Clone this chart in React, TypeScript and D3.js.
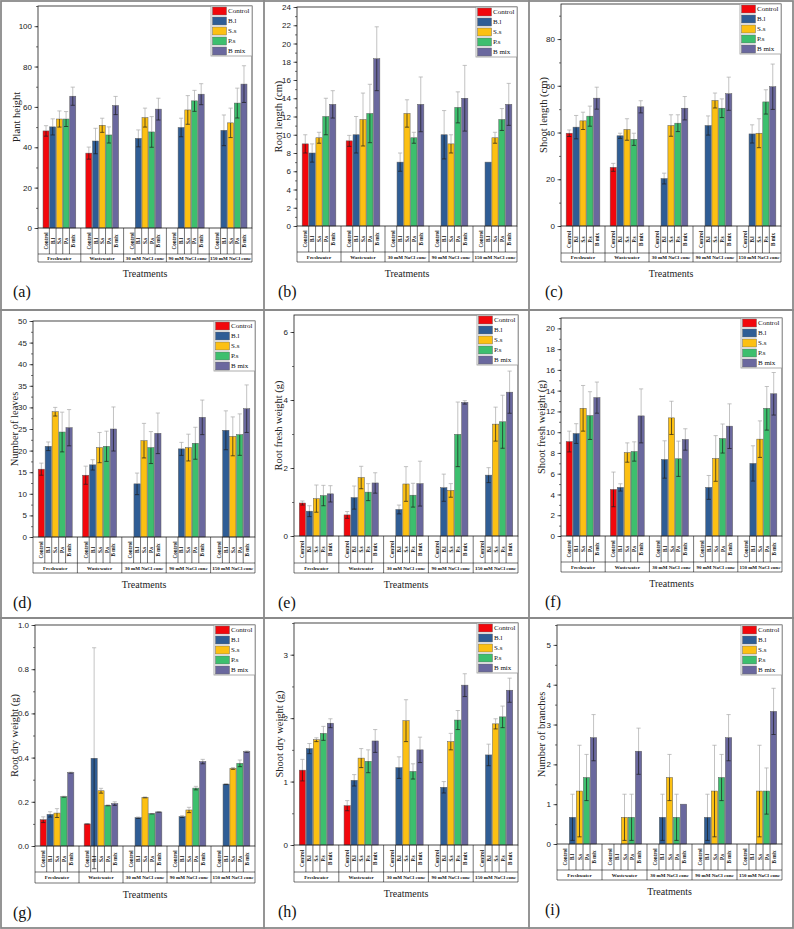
import { useEffect, useRef } from "react";
import * as d3 from "d3";

const groups = ["Freshwater", "Wastewater", "30 mM NaCl conc", "90 mM NaCl conc", "150 mM NaCl conc"];
const series = ["Control", "B.l", "S.s", "P.s", "B mix"];
const seriesColors = ["#f2070c", "#2f5d95", "#fcc013", "#3dbf6e", "#6a689e"];

// rows = treatment group, cols = strain (Control, B.l, S.s, P.s, B mix)
const plantHeight = [
  [48.1, 50.1, 54, 54, 65.3],
  [37.1, 43.1, 50.9, 46.1, 60.7],
  [0, 44.4, 54.7, 47.6, 58.9],
  [0, 49.8, 58.5, 63, 66.3],
  [0, 48.4, 52.1, 61.9, 71.3],
];
const plantHeightSd = [
  [2.6, 4, 4, 3.7, 4.5],
  [3, 6.3, 3.5, 4, 4.5],
  [0, 4.2, 4.7, 7.6, 5.4],
  [0, 4.6, 7.1, 5.2, 5.2],
  [0, 7.6, 7.3, 7.4, 9.1],
];

const rootLength = [
  [9, 8, 9.67, 12, 13.33],
  [9.33, 10, 11.67, 12.33, 18.33],
  [0, 7, 12.33, 9.67, 13.33],
  [0, 10, 9, 13, 14],
  [0, 7, 9.67, 11.67, 13.33],
];
const rootLengthSd = [
  [1, 1, 0.6, 2, 1.5],
  [0.6, 2, 2.9, 3.2, 3.5],
  [0, 1, 1.5, 0.6, 3],
  [0, 2.65, 1, 1.7, 3.6],
  [0, 0, 0.6, 1.2, 2.3],
];

const shootLength = [
  [39.7, 42.3, 45, 47, 54.7],
  [25.1, 38.6, 41.3, 37.1, 51],
  [0, 20.3, 43, 44, 50.4],
  [0, 43, 53.7, 50.4, 56.6],
  [0, 39.4, 39.7, 53.1, 59.6],
];
const shootLengthSd = [
  [1.4, 5, 3.7, 4.3, 4.7],
  [1.7, 1.1, 4.6, 2.6, 2.6],
  [0, 2.3, 4.6, 3.6, 5],
  [0, 4.1, 3.2, 4, 7.1],
  [0, 3.9, 6.2, 5.2, 9.7],
];

const leaves = [
  [15.7, 21, 29, 24.3, 25.3],
  [14.3, 16.7, 20.7, 21, 25],
  [0, 12.3, 22.3, 20.7, 24],
  [0, 20.4, 20.7, 21.7, 27.7],
  [0, 24.7, 23.3, 23.7, 29.7],
];
const leavesSd = [
  [1.4, 1, 1, 4.6, 4.2],
  [2.1, 1.2, 3.5, 3.5, 5.1],
  [0, 2.5, 4, 3.7, 4.7],
  [0, 1.5, 3.1, 3.7, 4],
  [0, 4.5, 4.5, 4.8, 5.5],
];

const rootFresh = [
  [0.97, 0.73, 1.1, 1.19, 1.24],
  [0.62, 1.13, 1.72, 1.29, 1.56],
  [0, 0.78, 1.53, 1.2, 1.54],
  [0, 1.42, 1.34, 2.99, 3.93],
  [0, 1.79, 3.29, 3.36, 4.23],
];
const rootFreshSd = [
  [0.06, 0.16, 0.4, 0.3, 0.24],
  [0.1, 0.34, 0.33, 0.25, 0.3],
  [0, 0.13, 0.51, 0.35, 0.66],
  [0, 0.4, 0.2, 0.95, 0.05],
  [0, 0.22, 0.5, 0.78, 0.62],
];

const shootFresh = [
  [9.1, 9.87, 12.3, 11.6, 13.33],
  [4.49, 4.68, 8.04, 8.14, 11.57],
  [0, 7.37, 11.38, 7.44, 9.3],
  [0, 4.68, 7.47, 9.39, 10.58],
  [0, 6.99, 9.33, 12.3, 13.7],
];
const shootFreshSd = [
  [1, 0.95, 2.2, 2.3, 1.5],
  [1.67, 0.35, 0.93, 0.93, 2.6],
  [0, 1.8, 1.6, 1.7, 1.03],
  [0, 1.15, 2.2, 1.4, 2.15],
  [0, 1.7, 1.76, 2.1, 2.05],
];

const rootDry = [
  [0.119, 0.143, 0.149, 0.223, 0.332],
  [0.1, 0.397, 0.25, 0.184, 0.192],
  [0, 0.128, 0.22, 0.146, 0.154],
  [0, 0.133, 0.163, 0.262, 0.382],
  [0, 0.28, 0.351, 0.374, 0.427],
];
const rootDrySd = [
  [0.013, 0.012, 0.02, 0.002, 0.002],
  [0.001, 0.5, 0.011, 0.002, 0.008],
  [0, 0.003, 0.002, 0.001, 0.001],
  [0, 0.004, 0.012, 0.008, 0.01],
  [0, 0.002, 0.004, 0.015, 0.003],
];

const shootDry = [
  [1.18, 1.52, 1.66, 1.76, 1.92],
  [0.62, 1.02, 1.37, 1.32, 1.64],
  [0, 1.22, 1.96, 1.16, 1.5],
  [0, 0.91, 1.63, 1.97, 2.52],
  [0, 1.42, 1.91, 2.02, 2.44],
];
const shootDrySd = [
  [0.17, 0.08, 0.03, 0.11, 0.07],
  [0.08, 0.09, 0.15, 0.18, 0.18],
  [0, 0.17, 0.33, 0.12, 0.2],
  [0, 0.09, 0.13, 0.15, 0.18],
  [0, 0.17, 0.08, 0.17, 0.19],
];

const branches = [
  [0, 0.67, 1.33, 1.67, 2.67],
  [0, 0, 0.67, 0.67, 2.33],
  [0, 0.67, 1.67, 0.67, 1],
  [0, 0.67, 1.33, 1.67, 2.67],
  [0, 0, 1.33, 1.33, 3.33],
];
const branchesSd = [
  [0, 0.58, 1.15, 0.58, 0.58],
  [0, 0, 0.58, 0.58, 0.58],
  [0, 0.58, 0.58, 0.58, 0],
  [0, 0.58, 1.15, 0.58, 0.58],
  [0, 0, 1.15, 0.58, 0.58],
];

type Box = {
  x0: number; x1: number; y0: number; yZero: number;
  labBottom: number; grpBottom: number; titleX: number; letterX: number;
};

type Panel = {
  letter: string; title: string; mean: number[][]; sd: number[][];
  yMax: number; step: number; minor: number; fmt: string; box: Box;
};

const panels: Panel[] = [
  { letter: "(a)", title: "Plant height", mean: plantHeight, sd: plantHeightSd, yMax: 110, step: 20, minor: 10, fmt: "d",
    box: { x0: 38, x1: 252, y0: 6, yZero: 228, labBottom: 254, grpBottom: 262, titleX: 16, letterX: 13 } },
  { letter: "(b)", title: "Root length (cm)", mean: rootLength, sd: rootLengthSd, yMax: 24, step: 2, minor: 1, fmt: "d",
    box: { x0: 297, x1: 517, y0: 7, yZero: 226, labBottom: 252, grpBottom: 262, titleX: 278, letterX: 278 } },
  { letter: "(c)", title: "Shoot length (cm)", mean: shootLength, sd: shootLengthSd, yMax: 95, step: 20, minor: 10, fmt: "d",
    box: { x0: 561, x1: 781, y0: 4, yZero: 226, labBottom: 253, grpBottom: 262, titleX: 543, letterX: 545 } },
  { letter: "(d)", title: "Number of leaves", mean: leaves, sd: leavesSd, yMax: 50, step: 5, minor: 2.5, fmt: "d",
    box: { x0: 33, x1: 255, y0: 321, yZero: 537, labBottom: 563, grpBottom: 573, titleX: 14, letterX: 13 } },
  { letter: "(e)", title: "Root fresh weight (g)", mean: rootFresh, sd: rootFreshSd, yMax: 6.5, step: 2, minor: 1, fmt: "d",
    box: { x0: 294, x1: 518, y0: 315, yZero: 536, labBottom: 563, grpBottom: 573, titleX: 278, letterX: 278 } },
  { letter: "(f)", title: "Shoot fresh weight (g)", mean: shootFresh, sd: shootFreshSd, yMax: 21, step: 2, minor: 1, fmt: "d",
    box: { x0: 561, x1: 782, y0: 318, yZero: 536, labBottom: 562, grpBottom: 572, titleX: 541, letterX: 545 } },
  { letter: "(g)", title: "Root dry weight (g)", mean: rootDry, sd: rootDrySd, yMax: 1.0, step: 0.2, minor: 0.1, fmt: ".1f",
    box: { x0: 35, x1: 255, y0: 625, yZero: 846, labBottom: 872, grpBottom: 883, titleX: 14, letterX: 13 } },
  { letter: "(h)", title: "Shoot dry weight (g)", mean: shootDry, sd: shootDrySd, yMax: 3.5, step: 1, minor: 0.5, fmt: "d",
    box: { x0: 294, x1: 518, y0: 623, yZero: 845, labBottom: 872, grpBottom: 882, titleX: 279, letterX: 278 } },
  { letter: "(i)", title: "Number of branches", mean: branches, sd: branchesSd, yMax: 5.5, step: 1, minor: 0.5, fmt: "d",
    box: { x0: 557, x1: 782, y0: 625, yZero: 844, labBottom: 870, grpBottom: 880, titleX: 541, letterX: 545 } },
];

const SERIF = "'Liberation Serif', 'Times New Roman', serif";
const SANS = "'Liberation Sans', Arial, sans-serif";

type Sel = d3.Selection<SVGGElement, unknown, null, undefined>;

function drawPanel(root: Sel, p: Panel) {
  const b = p.box;
  const g = root.append("g");
  const y = d3.scaleLinear().domain([0, p.yMax]).range([b.yZero, b.y0]);
  const gx = d3.scaleBand<string>().domain(groups).range([b.x0, b.x1]);
  const sx = d3
    .scaleBand<string>()
    .domain(series)
    .range([0, gx.bandwidth()])
    .paddingInner(0.1)
    .paddingOuter(0.75);

  const rows = groups.flatMap((grp, gi) =>
    series.map((s, si) => ({ grp, s, si, v: p.mean[gi][si], e: p.sd[gi][si] })),
  );
  const cx = (d: { grp: string; s: string }) => gx(d.grp)! + sx(d.s)! + sx.bandwidth() / 2;

  // bars
  g.append("g")
    .selectAll("rect")
    .data(rows.filter((d) => d.v > 0))
    .join("rect")
    .attr("x", (d) => gx(d.grp)! + sx(d.s)!)
    .attr("width", sx.bandwidth())
    .attr("y", (d) => y(d.v))
    .attr("height", (d) => b.yZero - y(d.v))
    .attr("fill", (d) => seriesColors[d.si])
    .attr("stroke", "#5c5c5c")
    .attr("stroke-width", 0.5);

  // error bars: light above the bar, dark inside it
  const withErr = rows.filter((d) => d.e > 0);
  const cap = 2.1;
  const up = g.append("g").attr("stroke", "#a9a9a9").attr("stroke-width", 0.7);
  up.selectAll("path")
    .data(withErr)
    .join("path")
    .attr("fill", "none")
    .attr("d", (d) => {
      const x = cx(d);
      const t = y(d.v + d.e);
      return `M${x},${y(d.v)}V${t}M${x - cap},${t}H${x + cap}`;
    });
  const down = g.append("g").attr("stroke", "#1e1e1e").attr("stroke-width", 0.7);
  down
    .selectAll("path")
    .data(withErr)
    .join("path")
    .attr("fill", "none")
    .attr("d", (d) => {
      const x = cx(d);
      const t = y(d.v - d.e);
      return `M${x},${y(d.v)}V${t}M${x - cap},${t}H${x + cap}`;
    });

  // plot frame
  g.append("rect")
    .attr("x", b.x0)
    .attr("y", b.y0)
    .attr("width", b.x1 - b.x0)
    .attr("height", b.yZero - b.y0)
    .attr("fill", "none")
    .attr("stroke", "#1a1a1a")
    .attr("stroke-width", 0.8);

  // y axis
  const major = d3.range(0, p.yMax + 1e-9, p.step);
  const axis = d3
    .axisLeft(y)
    .tickValues(major)
    .tickSize(3.5)
    .tickPadding(2.5)
    .tickFormat((v) => d3.format(p.fmt)(v as number));
  const ag = g.append("g").attr("transform", `translate(${b.x0},0)`).call(axis);
  ag.select(".domain").remove();
  ag.selectAll("line").attr("stroke", "#1a1a1a").attr("stroke-width", 0.7);
  ag.selectAll("text").attr("font-family", SANS).attr("font-size", 8).attr("fill", "#222");

  const minorAxis = d3
    .axisLeft(y)
    .tickValues(d3.range(0, p.yMax + 1e-9, p.minor))
    .tickSize(2)
    .tickFormat(() => "");
  const mg = g.append("g").attr("transform", `translate(${b.x0},0)`).call(minorAxis);
  mg.select(".domain").remove();
  mg.selectAll("line").attr("stroke", "#1a1a1a").attr("stroke-width", 0.6);

  // y title
  g.append("text")
    .attr("transform", `translate(${b.titleX},${(b.y0 + b.yZero) / 2}) rotate(-90)`)
    .attr("text-anchor", "middle")
    .attr("dominant-baseline", "central")
    .attr("font-family", SERIF)
    .attr("font-size", 10.5)
    .attr("fill", "#222")
    .text(p.title);

  // category table under the axis
  const tbl = g.append("g").attr("stroke", "#1a1a1a").attr("stroke-width", 0.6);
  tbl.append("line").attr("x1", b.x0).attr("x2", b.x1).attr("y1", b.labBottom).attr("y2", b.labBottom);
  tbl.append("line").attr("x1", b.x0).attr("x2", b.x1).attr("y1", b.grpBottom).attr("y2", b.grpBottom);
  const edges = groups.map((grp) => gx(grp)!).concat([b.x1]);
  tbl.selectAll("line.grp")
    .data(edges)
    .join("line")
    .attr("class", "grp")
    .attr("x1", (d) => d)
    .attr("x2", (d) => d)
    .attr("y1", b.yZero)
    .attr("y2", b.grpBottom);
  const half = (sx.step() - sx.bandwidth()) / 2;
  const inner = groups.flatMap((grp) => series.slice(1).map((s) => gx(grp)! + sx(s)! - half));
  tbl.selectAll("line.cat")
    .data(inner)
    .join("line")
    .attr("class", "cat")
    .attr("x1", (d) => d)
    .attr("x2", (d) => d)
    .attr("y1", b.yZero)
    .attr("y2", b.labBottom);

  g.append("g")
    .selectAll("text")
    .data(rows)
    .join("text")
    .attr("transform", (d) => `translate(${cx(d)},${(b.yZero + b.labBottom) / 2}) rotate(-90)`)
    .attr("text-anchor", "middle")
    .attr("dominant-baseline", "central")
    .attr("font-family", SERIF)
    .attr("font-weight", "bold")
    .attr("font-size", 5.2)
    .attr("fill", "#111")
    .text((d) => d.s);

  g.append("g")
    .selectAll("text")
    .data(groups)
    .join("text")
    .attr("x", (d) => gx(d)! + gx.bandwidth() / 2)
    .attr("y", (b.labBottom + b.grpBottom) / 2)
    .attr("text-anchor", "middle")
    .attr("dominant-baseline", "central")
    .attr("font-family", SERIF)
    .attr("font-weight", "bold")
    .attr("font-size", 5)
    .attr("fill", "#111")
    .text((d) => d);

  g.append("text")
    .attr("x", (b.x0 + b.x1) / 2)
    .attr("y", b.grpBottom + 15)
    .attr("text-anchor", "middle")
    .attr("font-family", SERIF)
    .attr("font-size", 10)
    .attr("fill", "#222")
    .text("Treatments");

  g.append("text")
    .attr("x", b.letterX)
    .attr("y", b.grpBottom + 35)
    .attr("font-family", SERIF)
    .attr("font-size", 16)
    .attr("fill", "#111")
    .text(p.letter);

  // legend, flush with the top-right corner of the frame
  const lw = 41;
  const rowH = 10;
  const lg = g.append("g").attr("transform", `translate(${b.x1 - lw},${b.y0})`);
  lg.append("rect")
    .attr("width", lw)
    .attr("height", rowH * series.length)
    .attr("fill", "#fff")
    .attr("stroke", "#9a9a9a")
    .attr("stroke-width", 0.8);
  const item = lg
    .selectAll("g.item")
    .data(series)
    .join("g")
    .attr("class", "item")
    .attr("transform", (_, i) => `translate(0,${i * rowH})`);
  item.append("rect")
    .attr("x", 1.5)
    .attr("y", 1)
    .attr("width", 14)
    .attr("height", rowH - 2)
    .attr("fill", (_, i) => seriesColors[i])
    .attr("stroke", "#6a6a6a")
    .attr("stroke-width", 0.5);
  item.append("text")
    .attr("x", 17)
    .attr("y", rowH / 2)
    .attr("dominant-baseline", "central")
    .attr("font-family", SERIF)
    .attr("font-size", 7)
    .attr("fill", "#111")
    .text((d) => d);
}

export default function App() {
  const ref = useRef<SVGSVGElement | null>(null);

  useEffect(() => {
    if (!ref.current) return;
    const svg = d3.select(ref.current);
    svg.selectAll("*").remove();
    const root = svg.append("g") as unknown as Sel;

    root.append("rect").attr("width", 794).attr("height", 929).attr("fill", "#fff");

    for (const p of panels) drawPanel(root, p);

    // panel grid
    const grid = root.append("g").attr("stroke", "#8a8a8a").attr("stroke-width", 1.8).attr("fill", "none");
    grid.append("rect").attr("x", 1).attr("y", 1).attr("width", 792).attr("height", 927);
    for (const x of [264, 529]) grid.append("line").attr("x1", x).attr("x2", x).attr("y1", 0).attr("y2", 929);
    for (const yy of [310, 618]) grid.append("line").attr("x1", 0).attr("x2", 794).attr("y1", yy).attr("y2", yy);

    return () => {
      svg.selectAll("*").remove();
    };
  }, []);

  return (
    <div style={{ position: "absolute", left: 0, top: 0 }}>
      <svg ref={ref} width={794} height={929} style={{ display: "block" }} />
    </div>
  );
}
